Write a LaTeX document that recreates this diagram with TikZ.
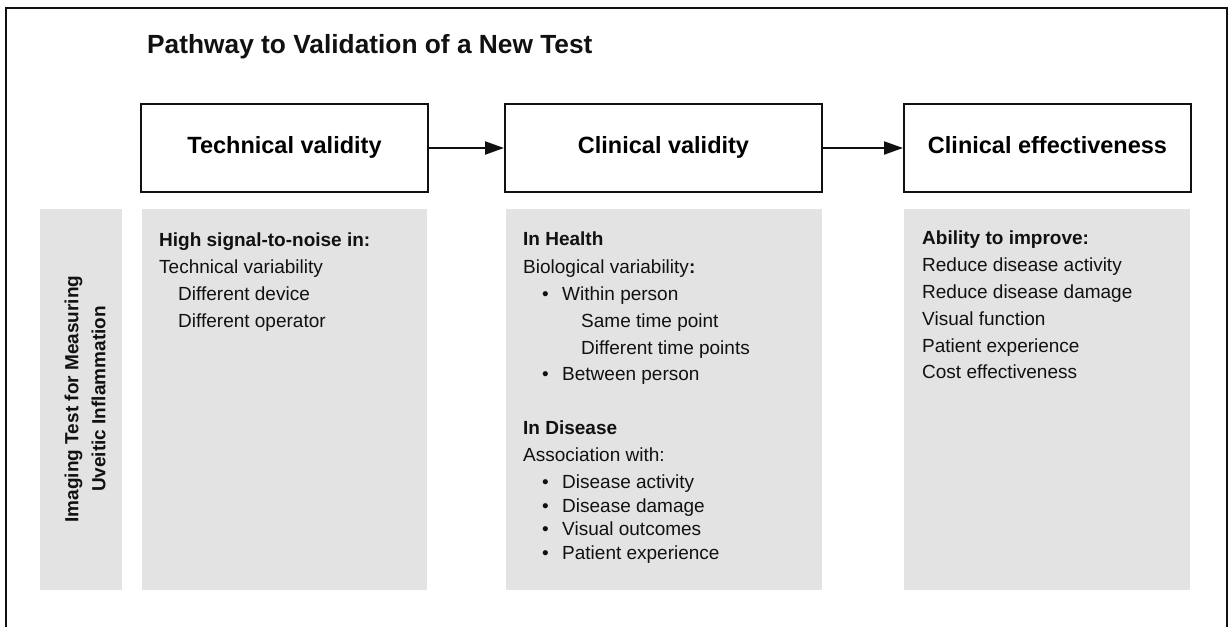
\documentclass[tikz,border=0pt]{standalone}
\usepackage{fontspec}
\setmainfont{Liberation Sans}
\usetikzlibrary{arrows.meta}
\definecolor{panelgrey}{RGB}{227,227,227}
\definecolor{inkblack}{RGB}{17,17,17}

\begin{document}
\begin{tikzpicture}[x=1pt,y=-1pt,
  panel/.style={fill=panelgrey},
  stagebox/.style={draw=inkblack, line width=2pt, fill=white, inner sep=0pt,
    minimum height=88pt, text height=17pt, text depth=5.2pt,
    font=\fontsize{23.5}{28}\selectfont\bfseries},
  flow/.style={draw=inkblack, line width=2pt,
    -{Triangle[length=19pt,width=13pt]}},
  body/.style={anchor=base west, inner sep=0pt, text=inkblack,
    font=\fontsize{19}{27}\selectfont},
  head/.style={body, font=\fontsize{19}{27}\selectfont\bfseries},
  dot/.style={body}
]
\useasboundingbox (0,0) rectangle (1228,627);

% open outer frame
\draw[inkblack, line width=2pt] (6,627) -- (6,8) -- (1227,8) -- (1227,627);

% title
\node[anchor=base west, inner sep=0pt, text=inkblack,
  font=\fontsize{26.3}{31}\selectfont\bfseries] (title) at (147,53)
  {Pathway to Validation of a New Test};

% stage boxes and arrows
\node[stagebox, minimum width=287pt] (tech) at (284.5,148) {Technical validity};
\node[stagebox, minimum width=317pt] (clin) at (663.5,148) {Clinical validity};
\node[stagebox, minimum width=287pt] (eff)  at (1047.5,148) {Clinical effectiveness};
\draw[flow] (tech.east) -- (clin.west);
\draw[flow] (clin.east) -- (eff.west);

% grey panels
\fill[panel] (40,209) rectangle (122,590);
\fill[panel] (142,209) rectangle (427,590);
\fill[panel] (506,209) rectangle (822,590);
\fill[panel] (904,209) rectangle (1190,590);

% side label
\node[rotate=90, align=center, inner sep=0pt, text=inkblack,
  font=\fontsize{19}{27}\selectfont\bfseries] (side) at (85,399)
  {Imaging Test for Measuring\\Uveitic Inflammation};

% technical validity column
\node[head] (t1) at (159,246) {High signal-to-noise in:};
\node[body] (t2) at (159,273) {Technical variability};
\node[body] (t3) at (178,300) {Different device};
\node[body] (t4) at (178,327) {Different operator};

% clinical validity column
\node[head] (c1) at (523,245) {In Health};
\node[body] (c2) at (523,273) {Biological variability\textbf{:}};
\node[dot]  (c3b) at (542,300) {•};
\node[body] (c3) at (562,300) {Within person};
\node[body] (c4) at (581,327) {Same time point};
\node[body] (c5) at (581,354) {Different time points};
\node[dot]  (c6b) at (542,380) {•};
\node[body] (c6) at (562,380) {Between person};
\node[head] (c7) at (523,434) {In Disease};
\node[body] (c8) at (523,461) {Association with:};
\node[dot]  (c9b) at (542,488) {•};
\node[body] (c9) at (562,488) {Disease activity};
\node[dot]  (c10b) at (542,512) {•};
\node[body] (c10) at (562,512) {Disease damage};
\node[dot]  (c11b) at (542,535) {•};
\node[body] (c11) at (562,535) {Visual outcomes};
\node[dot]  (c12b) at (542,559) {•};
\node[body] (c12) at (562,559) {Patient experience};

% clinical effectiveness column
\node[head] (e1) at (922,244) {Ability to improve:};
\node[body] (e2) at (922,271) {Reduce disease activity};
\node[body] (e3) at (922,298) {Reduce disease damage};
\node[body] (e4) at (922,325) {Visual function};
\node[body] (e5) at (922,352) {Patient experience};
\node[body] (e6) at (922,378) {Cost effectiveness};
\end{tikzpicture}
\end{document}
